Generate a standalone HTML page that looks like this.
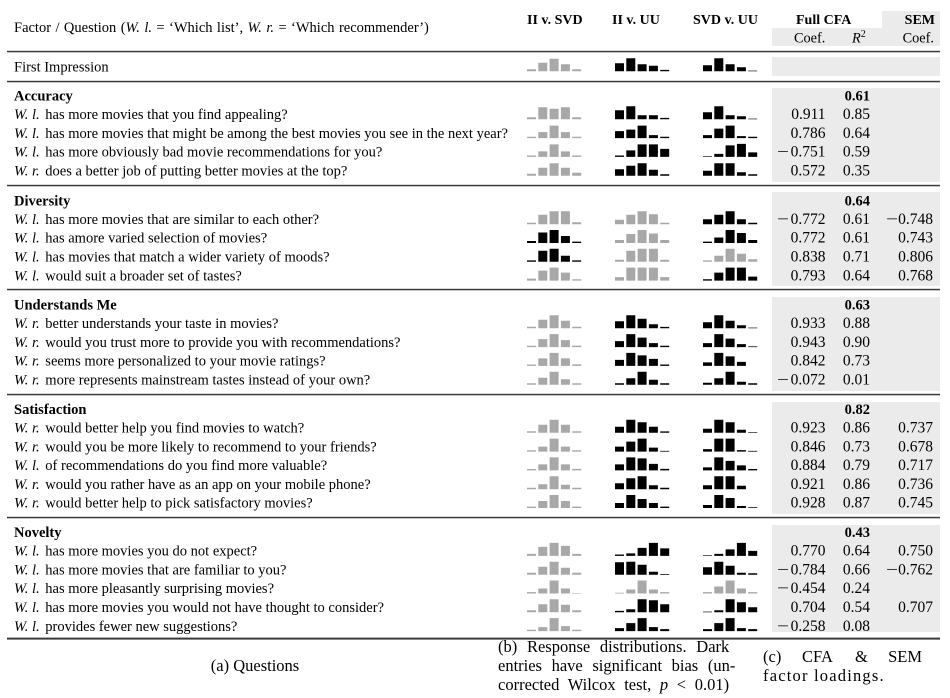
<!DOCTYPE html>
<html><head><meta charset="utf-8"><style>
html,body{margin:0;padding:0;background:#fff;}
svg{display:block;}
text{font-family:"Liberation Serif","DejaVu Serif",serif;font-size:14.5px;fill:#000;}
.b{font-weight:bold;}
.i{font-style:italic;}
.h{font-size:14px;font-weight:bold;}
.s{font-size:14.3px;}
.n{font-size:15.5px;}
.nb{font-size:14.5px;font-weight:bold;}
.c{font-size:16.5px;}
.g{fill:#a8a8a8;}
.d{fill:#000;}
.bx{fill:#ebebeb;}
.r{fill:#3a3a3a;}
</style></head><body>
<svg width="950" height="698" viewBox="0 0 950 698" xmlns="http://www.w3.org/2000/svg" font-family="Liberation Serif, serif">
<!-- grey backgrounds -->
<rect class="bx" x="882" y="11" width="58" height="18"/>
<rect class="bx" x="772" y="28" width="168" height="18"/>
<rect class="bx" x="772" y="57" width="168" height="19"/>
<rect class="bx" x="772" y="88" width="168" height="94"/>
<rect class="bx" x="772" y="192" width="168" height="94"/>
<rect class="bx" x="772" y="297" width="168" height="94"/>
<rect class="bx" x="772" y="402" width="168" height="112"/>
<rect class="bx" x="772" y="525" width="168" height="107"/>
<!-- rules -->
<rect class="r" x="7" y="50.8" width="933" height="1.5"/>
<rect class="r" x="7" y="80.8" width="933" height="1.5"/>
<rect class="r" x="7" y="184.8" width="933" height="1.5"/>
<rect class="r" x="7" y="288.8" width="933" height="1.5"/>
<rect class="r" x="7" y="393.8" width="933" height="1.5"/>
<rect class="r" x="7" y="516.8" width="933" height="1.5"/>
<rect class="r" x="7" y="637.6" width="933" height="2"/>

<!-- header -->
<text x="14" y="32" style="word-spacing:0.8px">Factor / Question (<tspan class="i">W. l.</tspan> = ‘Which list’, <tspan class="i">W. r.</tspan> = ‘Which recommender’)</text>
<text class="h" x="527" y="24">II v. SVD</text>
<text class="h" x="612" y="24">II v. UU</text>
<text class="h" x="693" y="24">SVD v. UU</text>
<text class="h" x="796" y="24">Full CFA</text>
<text class="h" x="935" y="24" text-anchor="end">SEM</text>
<text class="s" x="794" y="42.5">Coef.</text>
<text class="s" x="852" y="42.5"><tspan class="i">R</tspan><tspan font-size="10" dy="-5.5">2</tspan></text>
<text class="s" x="934" y="42.5" text-anchor="end">Coef.</text>

<!-- left texts -->
<text x="14" y="71.5">First Impression</text>

<text class="b" x="14" y="100.5">Accuracy</text>
<text x="14" y="119"><tspan class="i">W. l.</tspan><tspan dx="2"> has more movies that you find appealing?</tspan></text>
<text x="14" y="137.8"><tspan class="i">W. l.</tspan><tspan dx="2"> has more movies that might be among the best movies you see in the next year?</tspan></text>
<text x="14" y="156.6"><tspan class="i">W. l.</tspan><tspan dx="2"> has more obviously bad movie recommendations for you?</tspan></text>
<text x="14" y="175.4"><tspan class="i">W. r.</tspan><tspan dx="2"> does a better job of putting better movies at the top?</tspan></text>

<text class="b" x="14" y="205.4">Diversity</text>
<text x="14" y="223.9"><tspan class="i">W. l.</tspan><tspan dx="2"> has more movies that are similar to each other?</tspan></text>
<text x="14" y="242.7"><tspan class="i">W. l.</tspan><tspan dx="2"> has amore varied selection of movies?</tspan></text>
<text x="14" y="261.5"><tspan class="i">W. l.</tspan><tspan dx="2"> has movies that match a wider variety of moods?</tspan></text>
<text x="14" y="280.3"><tspan class="i">W. l.</tspan><tspan dx="2"> would suit a broader set of tastes?</tspan></text>

<text class="b" x="14" y="309.5">Understands Me</text>
<text x="14" y="328"><tspan class="i">W. r.</tspan><tspan dx="2"> better understands your taste in movies?</tspan></text>
<text x="14" y="346.8"><tspan class="i">W. r.</tspan><tspan dx="2"> would you trust more to provide you with recommendations?</tspan></text>
<text x="14" y="365.6"><tspan class="i">W. r.</tspan><tspan dx="2"> seems more personalized to your movie ratings?</tspan></text>
<text x="14" y="384.4"><tspan class="i">W. r.</tspan><tspan dx="2"> more represents mainstream tastes instead of your own?</tspan></text>

<text class="b" x="14" y="414">Satisfaction</text>
<text x="14" y="432.5"><tspan class="i">W. r.</tspan><tspan dx="2"> would better help you find movies to watch?</tspan></text>
<text x="14" y="451.3"><tspan class="i">W. r.</tspan><tspan dx="2"> would you be more likely to recommend to your friends?</tspan></text>
<text x="14" y="470.1"><tspan class="i">W. l.</tspan><tspan dx="2"> of recommendations do you find more valuable?</tspan></text>
<text x="14" y="488.9"><tspan class="i">W. r.</tspan><tspan dx="2"> would you rather have as an app on your mobile phone?</tspan></text>
<text x="14" y="507.7"><tspan class="i">W. r.</tspan><tspan dx="2"> would better help to pick satisfactory movies?</tspan></text>

<text class="b" x="14" y="537.1">Novelty</text>
<text x="14" y="555.6"><tspan class="i">W. l.</tspan><tspan dx="2"> has more movies you do not expect?</tspan></text>
<text x="14" y="574.4"><tspan class="i">W. l.</tspan><tspan dx="2"> has more movies that are familiar to you?</tspan></text>
<text x="14" y="593.2"><tspan class="i">W. l.</tspan><tspan dx="2"> has more pleasantly surprising movies?</tspan></text>
<text x="14" y="612"><tspan class="i">W. l.</tspan><tspan dx="2"> has more movies you would not have thought to consider?</tspan></text>
<text x="14" y="630.8"><tspan class="i">W. l.</tspan><tspan dx="2"> provides fewer new suggestions?</tspan></text>

<!-- numbers -->
<g text-anchor="end">
<text class="nb" x="870" y="100.5">0.61</text>
<text class="n" x="825.5" y="119">0.911</text><text class="n" x="870" y="119">0.85</text>
<text class="n" x="825.5" y="137.8">0.786</text><text class="n" x="870" y="137.8">0.64</text>
<text class="n" x="825.5" y="156.6">0.751</text><text class="n" x="870" y="156.6">0.59</text>
<text class="n" x="825.5" y="175.4">0.572</text><text class="n" x="870" y="175.4">0.35</text>

<text class="nb" x="870" y="205.4">0.64</text>
<text class="n" x="825.5" y="223.9">0.772</text><text class="n" x="870" y="223.9">0.61</text><text class="n" x="933" y="223.9">0.748</text>
<text class="n" x="825.5" y="242.7">0.772</text><text class="n" x="870" y="242.7">0.61</text><text class="n" x="933" y="242.7">0.743</text>
<text class="n" x="825.5" y="261.5">0.838</text><text class="n" x="870" y="261.5">0.71</text><text class="n" x="933" y="261.5">0.806</text>
<text class="n" x="825.5" y="280.3">0.793</text><text class="n" x="870" y="280.3">0.64</text><text class="n" x="933" y="280.3">0.768</text>

<text class="nb" x="870" y="309.5">0.63</text>
<text class="n" x="825.5" y="328">0.933</text><text class="n" x="870" y="328">0.88</text>
<text class="n" x="825.5" y="346.8">0.943</text><text class="n" x="870" y="346.8">0.90</text>
<text class="n" x="825.5" y="365.6">0.842</text><text class="n" x="870" y="365.6">0.73</text>
<text class="n" x="825.5" y="384.4">0.072</text><text class="n" x="870" y="384.4">0.01</text>

<text class="nb" x="870" y="414">0.82</text>
<text class="n" x="825.5" y="432.5">0.923</text><text class="n" x="870" y="432.5">0.86</text><text class="n" x="933" y="432.5">0.737</text>
<text class="n" x="825.5" y="451.3">0.846</text><text class="n" x="870" y="451.3">0.73</text><text class="n" x="933" y="451.3">0.678</text>
<text class="n" x="825.5" y="470.1">0.884</text><text class="n" x="870" y="470.1">0.79</text><text class="n" x="933" y="470.1">0.717</text>
<text class="n" x="825.5" y="488.9">0.921</text><text class="n" x="870" y="488.9">0.86</text><text class="n" x="933" y="488.9">0.736</text>
<text class="n" x="825.5" y="507.7">0.928</text><text class="n" x="870" y="507.7">0.87</text><text class="n" x="933" y="507.7">0.745</text>

<text class="nb" x="870" y="537.1">0.43</text>
<text class="n" x="825.5" y="555.6">0.770</text><text class="n" x="870" y="555.6">0.64</text><text class="n" x="933" y="555.6">0.750</text>
<text class="n" x="825.5" y="574.4">0.784</text><text class="n" x="870" y="574.4">0.66</text><text class="n" x="933" y="574.4">0.762</text>
<text class="n" x="825.5" y="593.2">0.454</text><text class="n" x="870" y="593.2">0.24</text>
<text class="n" x="825.5" y="612">0.704</text><text class="n" x="870" y="612">0.54</text><text class="n" x="933" y="612">0.707</text>
<text class="n" x="825.5" y="630.8">0.258</text><text class="n" x="870" y="630.8">0.08</text>
</g>
<!-- minus signs -->
<text class="n" x="777" y="156.6" textLength="12" lengthAdjust="spacingAndGlyphs">−</text>
<text class="n" x="777" y="223.9" textLength="12" lengthAdjust="spacingAndGlyphs">−</text>
<text class="n" x="886" y="223.9" textLength="12" lengthAdjust="spacingAndGlyphs">−</text>
<text class="n" x="777" y="384.4" textLength="12" lengthAdjust="spacingAndGlyphs">−</text>
<text class="n" x="777" y="574.4" textLength="12" lengthAdjust="spacingAndGlyphs">−</text>
<text class="n" x="886" y="574.4" textLength="12" lengthAdjust="spacingAndGlyphs">−</text>
<text class="n" x="777" y="593.2" textLength="12" lengthAdjust="spacingAndGlyphs">−</text>
<text class="n" x="777" y="630.8" textLength="12" lengthAdjust="spacingAndGlyphs">−</text>

<!-- bar glyphs -->
<!-- First impression -->
<path class="g" transform="translate(527 71.3)" d="M0 0h9v-2h-9zM11.3 0h9v-8.5h-9zM22.6 0h9v-12.5h-9zM33.9 0h9v-7h-9zM45.2 0h9v-2h-9z"/>
<path class="d" transform="translate(615 71.3)" d="M0 0h9v-8h-9zM11.3 0h9v-13h-9zM22.6 0h9v-7h-9zM33.9 0h9v-5.5h-9zM45.2 0h9v-1.4h-9z"/>
<path class="d" transform="translate(703 71.3)" d="M0 0h9v-6h-9zM11.3 0h9v-13h-9zM22.6 0h9v-7h-9zM33.9 0h9v-4h-9zM45.2 0h9v-0.7h-9z"/>
<!-- Accuracy -->
<path class="g" transform="translate(527 119.3)" d="M0 0h9v-2h-9zM11.3 0h9v-12h-9zM22.6 0h9v-10.5h-9zM33.9 0h9v-12h-9zM45.2 0h9v-2h-9z"/>
<path class="d" transform="translate(615 119.3)" d="M0 0h9v-9h-9zM11.3 0h9v-13h-9zM22.6 0h9v-4h-9zM33.9 0h9v-4h-9zM45.2 0h9v-1.4h-9z"/>
<path class="d" transform="translate(703 119.3)" d="M0 0h9v-7h-9zM11.3 0h9v-13h-9zM22.6 0h9v-4h-9zM33.9 0h9v-3h-9zM45.2 0h9v-0.7h-9z"/>

<path class="g" transform="translate(527 138.1)" d="M0 0h9v-1.4h-9zM11.3 0h9v-6h-9zM22.6 0h9v-12.5h-9zM33.9 0h9v-6h-9zM45.2 0h9v-1.4h-9z"/>
<path class="d" transform="translate(615 138.1)" d="M0 0h9v-7h-9zM11.3 0h9v-8.5h-9zM22.6 0h9v-12.5h-9zM33.9 0h9v-3h-9zM45.2 0h9v-1.4h-9z"/>
<path class="d" transform="translate(703 138.1)" d="M0 0h9v-3h-9zM11.3 0h9v-9.5h-9zM22.6 0h9v-12.5h-9zM33.9 0h9v-2h-9zM45.2 0h9v-1.4h-9z"/>

<path class="g" transform="translate(527 156.9)" d="M0 0h9v-1.4h-9zM11.3 0h9v-5.5h-9zM22.6 0h9v-12.5h-9zM33.9 0h9v-5.5h-9zM45.2 0h9v-1.4h-9z"/>
<path class="d" transform="translate(615 156.9)" d="M0 0h9v-1.4h-9zM11.3 0h9v-6.5h-9zM22.6 0h9v-12.5h-9zM33.9 0h9v-12.5h-9zM45.2 0h9v-8h-9z"/>
<path class="d" transform="translate(703 156.9)" d="M0 0h9v-0.7h-9zM11.3 0h9v-3h-9zM22.6 0h9v-11.5h-9zM33.9 0h9v-13h-9zM45.2 0h9v-4.5h-9z"/>

<path class="g" transform="translate(527 175.7)" d="M0 0h9v-2h-9zM11.3 0h9v-8h-9zM22.6 0h9v-12.5h-9zM33.9 0h9v-8h-9zM45.2 0h9v-3h-9z"/>
<path class="d" transform="translate(615 175.7)" d="M0 0h9v-6.5h-9zM11.3 0h9v-10h-9zM22.6 0h9v-12.5h-9zM33.9 0h9v-6h-9zM45.2 0h9v-1.4h-9z"/>
<path class="d" transform="translate(703 175.7)" d="M0 0h9v-5h-9zM11.3 0h9v-12.5h-9zM22.6 0h9v-12.5h-9zM33.9 0h9v-3.5h-9zM45.2 0h9v-1.4h-9z"/>
<!-- Diversity -->
<path class="g" transform="translate(527 224.2)" d="M0 0h9v-1.4h-9zM11.3 0h9v-9.5h-9zM22.6 0h9v-13h-9zM33.9 0h9v-13h-9zM45.2 0h9v-2h-9z"/>
<path class="g" transform="translate(615 224.2)" d="M0 0h9v-4.5h-9zM11.3 0h9v-9.5h-9zM22.6 0h9v-13h-9zM33.9 0h9v-10h-9zM45.2 0h9v-1.4h-9z"/>
<path class="d" transform="translate(703 224.2)" d="M0 0h9v-5h-9zM11.3 0h9v-9.5h-9zM22.6 0h9v-13h-9zM33.9 0h9v-5h-9zM45.2 0h9v-1.4h-9z"/>

<path class="d" transform="translate(527 243)" d="M0 0h9v-2h-9zM11.3 0h9v-10.5h-9zM22.6 0h9v-13h-9zM33.9 0h9v-7h-9zM45.2 0h9v-1.4h-9z"/>
<path class="g" transform="translate(615 243)" d="M0 0h9v-3h-9zM11.3 0h9v-9h-9zM22.6 0h9v-13h-9zM33.9 0h9v-9.5h-9zM45.2 0h9v-3h-9z"/>
<path class="d" transform="translate(703 243)" d="M0 0h9v-1.4h-9zM11.3 0h9v-5.5h-9zM22.6 0h9v-13h-9zM33.9 0h9v-10h-9zM45.2 0h9v-3h-9z"/>

<path class="d" transform="translate(527 261.8)" d="M0 0h9v-1.4h-9zM11.3 0h9v-11h-9zM22.6 0h9v-13h-9zM33.9 0h9v-6h-9zM45.2 0h9v-1.4h-9z"/>
<path class="g" transform="translate(615 261.8)" d="M0 0h9v-2h-9zM11.3 0h9v-11h-9zM22.6 0h9v-13h-9zM33.9 0h9v-13h-9zM45.2 0h9v-2h-9z"/>
<path class="g" transform="translate(703 261.8)" d="M0 0h9v-1.4h-9zM11.3 0h9v-6h-9zM22.6 0h9v-13h-9zM33.9 0h9v-8h-9zM45.2 0h9v-2.5h-9z"/>

<path class="g" transform="translate(527 280.6)" d="M0 0h9v-2h-9zM11.3 0h9v-10h-9zM22.6 0h9v-13h-9zM33.9 0h9v-8h-9zM45.2 0h9v-1.4h-9z"/>
<path class="g" transform="translate(615 280.6)" d="M0 0h9v-3.5h-9zM11.3 0h9v-13h-9zM22.6 0h9v-13h-9zM33.9 0h9v-13h-9zM45.2 0h9v-3.5h-9z"/>
<path class="d" transform="translate(703 280.6)" d="M0 0h9v-1.4h-9zM11.3 0h9v-8h-9zM22.6 0h9v-13h-9zM33.9 0h9v-13h-9zM45.2 0h9v-4h-9z"/>
<!-- Understands Me -->
<path class="g" transform="translate(527 328.3)" d="M0 0h9v-1.5h-9zM11.3 0h9v-8.5h-9zM22.6 0h9v-13h-9zM33.9 0h9v-7.5h-9zM45.2 0h9v-1.5h-9z"/>
<path class="d" transform="translate(615 328.3)" d="M0 0h9v-7h-9zM11.3 0h9v-13h-9zM22.6 0h9v-9.5h-9zM33.9 0h9v-4h-9zM45.2 0h9v-1.4h-9z"/>
<path class="d" transform="translate(703 328.3)" d="M0 0h9v-6h-9zM11.3 0h9v-13h-9zM22.6 0h9v-7.5h-9zM33.9 0h9v-3h-9zM45.2 0h9v-0.7h-9z"/>

<path class="g" transform="translate(527 347.1)" d="M0 0h9v-1.4h-9zM11.3 0h9v-8h-9zM22.6 0h9v-13h-9zM33.9 0h9v-7h-9zM45.2 0h9v-1.5h-9z"/>
<path class="d" transform="translate(615 347.1)" d="M0 0h9v-6h-9zM11.3 0h9v-13h-9zM22.6 0h9v-9.5h-9zM33.9 0h9v-4h-9zM45.2 0h9v-1.4h-9z"/>
<path class="d" transform="translate(703 347.1)" d="M0 0h9v-4h-9zM11.3 0h9v-13h-9zM22.6 0h9v-8.5h-9zM33.9 0h9v-3h-9zM45.2 0h9v-0.7h-9z"/>

<path class="g" transform="translate(527 365.9)" d="M0 0h9v-1.4h-9zM11.3 0h9v-7.5h-9zM22.6 0h9v-13h-9zM33.9 0h9v-7.5h-9zM45.2 0h9v-1.5h-9z"/>
<path class="d" transform="translate(615 365.9)" d="M0 0h9v-6h-9zM11.3 0h9v-13h-9zM22.6 0h9v-10.5h-9zM33.9 0h9v-7h-9zM45.2 0h9v-1.4h-9z"/>
<path class="d" transform="translate(703 365.9)" d="M0 0h9v-3.5h-9zM11.3 0h9v-13h-9zM22.6 0h9v-9.5h-9zM33.9 0h9v-4h-9z"/>

<path class="g" transform="translate(527 384.7)" d="M0 0h9v-1.4h-9zM11.3 0h9v-7h-9zM22.6 0h9v-13h-9zM33.9 0h9v-5.5h-9zM45.2 0h9v-1.5h-9z"/>
<path class="d" transform="translate(615 384.7)" d="M0 0h9v-1.5h-9zM11.3 0h9v-6.5h-9zM22.6 0h9v-13h-9zM33.9 0h9v-5h-9zM45.2 0h9v-1.4h-9z"/>
<path class="d" transform="translate(703 384.7)" d="M0 0h9v-2h-9zM11.3 0h9v-6.5h-9zM22.6 0h9v-13h-9zM33.9 0h9v-3h-9zM45.2 0h9v-1.4h-9z"/>
<!-- Satisfaction -->
<path class="g" transform="translate(527 432.8)" d="M0 0h9v-1.5h-9zM11.3 0h9v-8h-9zM22.6 0h9v-13h-9zM33.9 0h9v-8h-9zM45.2 0h9v-1.5h-9z"/>
<path class="d" transform="translate(615 432.8)" d="M0 0h9v-6h-9zM11.3 0h9v-13h-9zM22.6 0h9v-10.5h-9zM33.9 0h9v-6h-9zM45.2 0h9v-1.4h-9z"/>
<path class="d" transform="translate(703 432.8)" d="M0 0h9v-4h-9zM11.3 0h9v-13h-9zM22.6 0h9v-10.5h-9zM33.9 0h9v-3h-9zM45.2 0h9v-0.7h-9z"/>

<path class="g" transform="translate(527 451.6)" d="M0 0h9v-1.4h-9zM11.3 0h9v-5h-9zM22.6 0h9v-13h-9zM33.9 0h9v-5h-9zM45.2 0h9v-1.4h-9z"/>
<path class="d" transform="translate(615 451.6)" d="M0 0h9v-5h-9zM11.3 0h9v-10h-9zM22.6 0h9v-13h-9zM33.9 0h9v-4h-9zM45.2 0h9v-0.7h-9z"/>
<path class="d" transform="translate(703 451.6)" d="M0 0h9v-2.5h-9zM11.3 0h9v-13h-9zM22.6 0h9v-13h-9zM33.9 0h9v-1.5h-9zM45.2 0h9v-0.7h-9z"/>

<path class="g" transform="translate(527 470.4)" d="M0 0h9v-1.4h-9zM11.3 0h9v-6h-9zM22.6 0h9v-13h-9zM33.9 0h9v-6h-9zM45.2 0h9v-1.5h-9z"/>
<path class="d" transform="translate(615 470.4)" d="M0 0h9v-6h-9zM11.3 0h9v-13h-9zM22.6 0h9v-12h-9zM33.9 0h9v-6.5h-9zM45.2 0h9v-1.5h-9z"/>
<path class="d" transform="translate(703 470.4)" d="M0 0h9v-3h-9zM11.3 0h9v-13h-9zM22.6 0h9v-9.5h-9zM33.9 0h9v-5h-9zM45.2 0h9v-1.4h-9z"/>

<path class="g" transform="translate(527 489.2)" d="M0 0h9v-1.4h-9zM11.3 0h9v-5h-9zM22.6 0h9v-13h-9zM33.9 0h9v-4.5h-9zM45.2 0h9v-1.4h-9z"/>
<path class="d" transform="translate(615 489.2)" d="M0 0h9v-6h-9zM11.3 0h9v-11h-9zM22.6 0h9v-13h-9zM33.9 0h9v-4h-9zM45.2 0h9v-1.4h-9z"/>
<path class="d" transform="translate(703 489.2)" d="M0 0h9v-4h-9zM11.3 0h9v-13h-9zM22.6 0h9v-13h-9zM33.9 0h9v-3.5h-9z"/>

<path class="g" transform="translate(527 508)" d="M0 0h9v-1.4h-9zM11.3 0h9v-7h-9zM22.6 0h9v-13h-9zM33.9 0h9v-7h-9zM45.2 0h9v-1.4h-9z"/>
<path class="d" transform="translate(615 508)" d="M0 0h9v-5h-9zM11.3 0h9v-13h-9zM22.6 0h9v-9h-9zM33.9 0h9v-5h-9zM45.2 0h9v-1.4h-9z"/>
<path class="d" transform="translate(703 508)" d="M0 0h9v-3h-9zM11.3 0h9v-13h-9zM22.6 0h9v-10h-9zM33.9 0h9v-2h-9zM45.2 0h9v-0.7h-9z"/>
<!-- Novelty -->
<path class="g" transform="translate(527 555.9)" d="M0 0h9v-2h-9zM11.3 0h9v-9h-9zM22.6 0h9v-13h-9zM33.9 0h9v-10h-9zM45.2 0h9v-2h-9z"/>
<path class="d" transform="translate(615 555.9)" d="M0 0h9v-1.4h-9zM11.3 0h9v-2.5h-9zM22.6 0h9v-8h-9zM33.9 0h9v-13h-9zM45.2 0h9v-7.5h-9z"/>
<path class="d" transform="translate(703 555.9)" d="M0 0h9v-0.7h-9zM11.3 0h9v-2h-9zM22.6 0h9v-6.5h-9zM33.9 0h9v-13h-9zM45.2 0h9v-5h-9z"/>

<path class="g" transform="translate(527 574.7)" d="M0 0h9v-2h-9zM11.3 0h9v-8h-9zM22.6 0h9v-13h-9zM33.9 0h9v-7h-9zM45.2 0h9v-2h-9z"/>
<path class="d" transform="translate(615 574.7)" d="M0 0h9v-12.5h-9zM11.3 0h9v-13h-9zM22.6 0h9v-10h-9zM33.9 0h9v-3h-9zM45.2 0h9v-0.7h-9z"/>
<path class="d" transform="translate(703 574.7)" d="M0 0h9v-7.5h-9zM11.3 0h9v-13h-9zM22.6 0h9v-9h-9zM33.9 0h9v-2h-9zM45.2 0h9v-1.4h-9z"/>

<path class="g" transform="translate(527 593.5)" d="M0 0h9v-1.4h-9zM11.3 0h9v-5h-9zM22.6 0h9v-13h-9zM33.9 0h9v-5h-9zM45.2 0h9v-0.5h-9z"/>
<path class="g" transform="translate(615 593.5)" d="M0 0h9v-0.7h-9zM11.3 0h9v-4h-9zM22.6 0h9v-13h-9zM33.9 0h9v-4h-9zM45.2 0h9v-1.4h-9z"/>
<path class="g" transform="translate(703 593.5)" d="M0 0h9v-1.4h-9zM11.3 0h9v-7h-9zM22.6 0h9v-13h-9zM33.9 0h9v-5h-9zM45.2 0h9v-1.4h-9z"/>

<path class="g" transform="translate(527 612.3)" d="M0 0h9v-2h-9zM11.3 0h9v-8h-9zM22.6 0h9v-13h-9zM33.9 0h9v-7.5h-9zM45.2 0h9v-2h-9z"/>
<path class="d" transform="translate(615 612.3)" d="M0 0h9v-1.4h-9zM11.3 0h9v-3h-9zM22.6 0h9v-13h-9zM33.9 0h9v-12h-9zM45.2 0h9v-8h-9z"/>
<path class="d" transform="translate(703 612.3)" d="M0 0h9v-0.7h-9zM11.3 0h9v-2h-9zM22.6 0h9v-13h-9zM33.9 0h9v-10h-9zM45.2 0h9v-5h-9z"/>

<path class="g" transform="translate(527 631.1)" d="M0 0h9v-1.4h-9zM11.3 0h9v-4h-9zM22.6 0h9v-13h-9zM33.9 0h9v-5h-9zM45.2 0h9v-1.4h-9z"/>
<path class="d" transform="translate(615 631.1)" d="M0 0h9v-3h-9zM11.3 0h9v-8h-9zM22.6 0h9v-13h-9zM33.9 0h9v-4h-9zM45.2 0h9v-2h-9z"/>
<path class="d" transform="translate(703 631.1)" d="M0 0h9v-2h-9zM11.3 0h9v-8h-9zM22.6 0h9v-13h-9zM33.9 0h9v-3h-9zM45.2 0h9v-2h-9z"/>

<!-- captions -->
<text class="c" x="255" y="671" text-anchor="middle">(a) Questions</text>
<text class="c" x="498" y="652" style="word-spacing:5.6px">(b) Response distributions. Dark</text>
<text class="c" x="498" y="671" style="word-spacing:5.5px">entries have significant bias (un-</text>
<text class="c" x="498" y="690" style="word-spacing:4.5px">corrected Wilcox test, <tspan class="i">p</tspan> &lt; 0.01)</text>
<text class="c" x="763" y="662">(c)</text>
<text class="c" x="802" y="662">CFA</text>
<text class="c" x="855" y="662">&amp;</text>
<text class="c" x="922" y="662" text-anchor="end">SEM</text>
<text class="c" x="763" y="681" style="letter-spacing:1.2px">factor loadings.</text>
</svg>
</body></html>
